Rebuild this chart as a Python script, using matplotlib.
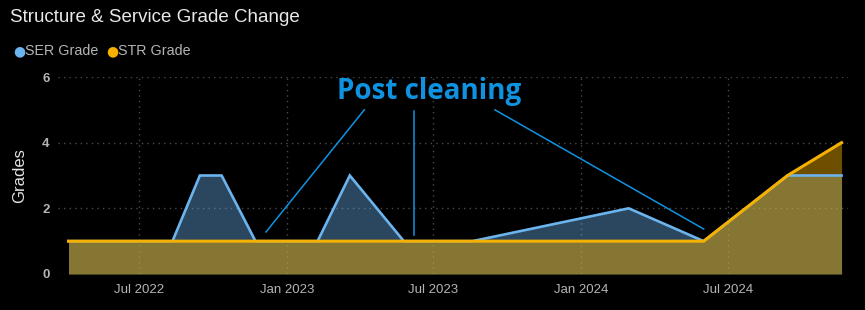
import matplotlib
matplotlib.use("Agg")
import matplotlib.pyplot as plt
import matplotlib.dates as mdates
import numpy as np
import pandas as pd

# ---- data ----
dates = pd.to_datetime([
    "2022-04-05", "2022-08-12", "2022-09-15", "2022-10-12", "2022-11-23",
    "2023-02-08", "2023-03-20", "2023-05-26", "2023-08-19", "2024-02-29",
    "2024-06-01", "2024-09-13", "2024-11-19",
])
ser_grade = [1, 1, 3, 3, 1, 1, 3, 1, 1, 2, 1, 3, 3]
str_grade = [1, 1, 1, 1, 1, 1, 1, 1, 1, 1, 1, 3, 4]

tick_dates = pd.to_datetime(["2022-07-01", "2023-01-01", "2023-07-01", "2024-01-01", "2024-07-01"])
tick_labels = ["Jul 2022", "Jan 2023", "Jul 2023", "Jan 2024", "Jul 2024"]
y_ticks = [0, 2, 4, 6]

title = "Structure & Service Grade Change"
series_names = ["SER Grade", "STR Grade"]
annotation_text = "Post cleaning"
# annotation connector targets (date, grade) and start points
ann_targets = [("2022-12-06", 1.28), ("2023-06-07", 1.19), ("2024-06-01", 1.37)]
ann_starts = [("2023-04-07", 5.0), ("2023-06-07", 4.97), ("2023-09-16", 5.0)]
ann_text_pos = ("2023-06-26", 5.55)

# ---- style ----
BG = "#000000"
SER_C = "#6cb4ee"
STR_C = "#f5b000"
GRID_C = "#4a4a4a"
TXT_C = "#b4b4b4"
ANN_C = "#0f93e0"

plt.rcParams["font.family"] = ["Liberation Sans", "DejaVu Sans"]

fig = plt.figure(figsize=(8.65, 3.10), dpi=100, facecolor=BG)
ax = fig.add_axes([58 / 865, 36 / 310, 790 / 865, 197 / 310], facecolor=BG)

# fills
ax.fill_between(dates, 0, ser_grade, color=SER_C, alpha=0.40, linewidth=0, zorder=2)
ax.fill_between(dates, 0, str_grade, color=STR_C, alpha=0.45, linewidth=0, zorder=3)
# lines
ax.plot(dates, ser_grade, color=SER_C, linewidth=1.9, zorder=4, solid_joinstyle="miter")
ax.plot(dates, str_grade, color=STR_C, linewidth=2.2, zorder=5, solid_joinstyle="round")

ax.set_xlim(pd.Timestamp("2022-03-23"), pd.Timestamp("2024-11-27"))
ax.set_ylim(0, 6)

ax.set_xticks(tick_dates)
ax.set_xticklabels(tick_labels)
ax.set_yticks(y_ticks)
ax.tick_params(axis="both", length=0, colors=TXT_C, labelsize=9.5)
ax.tick_params(axis="x", pad=7)
ax.tick_params(axis="y", pad=6)
for lab in ax.get_yticklabels():
    lab.set_fontweight("bold")

ax.grid(True, color=GRID_C, linestyle=(0, (1, 3)), linewidth=1.0, zorder=0)
ax.set_axisbelow(True)
for s in ax.spines.values():
    s.set_visible(False)

ax.set_ylabel("Grades", color="#e4e4e4", fontsize=12, labelpad=11)

# annotation
for (sd, sv), (td, tv) in zip(ann_starts, ann_targets):
    ax.plot([pd.Timestamp(sd), pd.Timestamp(td)], [sv, tv], color=ANN_C, linewidth=1.1, zorder=6)
ax.text(pd.Timestamp(ann_text_pos[0]), ann_text_pos[1], annotation_text, color=ANN_C,
        fontsize=20, fontweight="bold", family=["Open Sans", "DejaVu Sans"],
        ha="center", va="center", zorder=7)

# title & legend
fig.text(10 / 865, 1 - 18 / 310, title, color="#e8e8e8", fontsize=13.5, ha="left", va="center")
fig.text(25 / 865, 1 - 51 / 310, "\u25CF", color=SER_C, fontsize=10, ha="right", va="center",
         family=["DejaVu Sans"])
fig.text(25 / 865, 1 - 51 / 310, series_names[0], color=TXT_C, fontsize=10.3, ha="left", va="center")
fig.text(118 / 865, 1 - 51 / 310, "\u25CF", color=STR_C, fontsize=10, ha="right", va="center",
         family=["DejaVu Sans"])
fig.text(118 / 865, 1 - 51 / 310, series_names[1], color=TXT_C, fontsize=10.3, ha="left", va="center")

fig.savefig("out.png", dpi=100, facecolor=BG)
